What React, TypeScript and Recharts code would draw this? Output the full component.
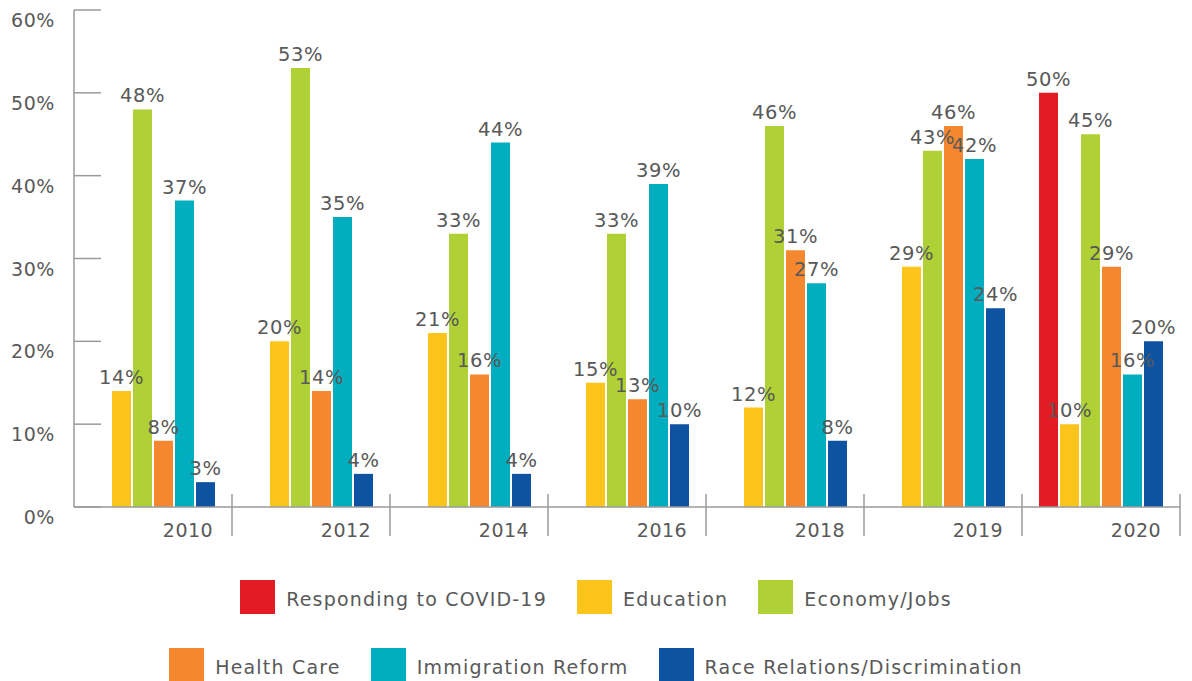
import React from 'react';
import { BarChart, Bar, XAxis, YAxis, LabelList, Legend } from 'recharts';

const categories = ['2010', '2012', '2014', '2016', '2018', '2019', '2020'];
const covid = [null, null, null, null, null, null, 50];
const education = [14, 20, 21, 15, 12, 29, 10];
const economy = [48, 53, 33, 33, 46, 43, 45];
const healthCare = [8, 14, 16, 13, 31, 46, 29];
const immigration = [37, 35, 44, 39, 27, 42, 16];
const race = [3, 4, 4, 10, 8, 24, 20];
const yTicks = [0, 10, 20, 30, 40, 50, 60];

const series = [
  { key: 'covid', name: 'Responding to COVID-19', color: '#E31B23' },
  { key: 'education', name: 'Education', color: '#FDC51B' },
  { key: 'economy', name: 'Economy/Jobs', color: '#AFD135' },
  { key: 'health', name: 'Health Care', color: '#F5882E' },
  { key: 'immigration', name: 'Immigration Reform', color: '#00AEBF' },
  { key: 'race', name: 'Race Relations/Discrimination', color: '#0D53A2' },
];

const data = categories.map((year, i) => ({
  year,
  covid: covid[i],
  education: education[i],
  economy: economy[i],
  health: healthCare[i],
  immigration: immigration[i],
  race: race[i],
}));

const W = 1192;
const H = 681;
const MARGIN = { top: 10, right: 12, left: 0, bottom: 0 };
const Y_W = 74;
const X_H = 174;
const BAND = (W - MARGIN.left - MARGIN.right - Y_W) / categories.length;
const FONT = '"DejaVu Sans", sans-serif';
const TEXT = '#595959';
const AXIS = '#9a9a9a';

const YTick = (props: any) => {
  const { x, y, payload } = props;
  return (
    <g>
      <line x1={x} x2={x + 27} y1={y} y2={y} stroke={AXIS} strokeWidth={1.5} />
      <text x={x - 19} y={y + 17} textAnchor="end" fill={TEXT} fontSize={19} fontFamily={FONT} letterSpacing={0.6}>
        {`${payload.value}%`}
      </text>
    </g>
  );
};

const XTick = (props: any) => {
  const { x, y, payload } = props;
  const sep = x + BAND / 2;
  return (
    <g>
      <line x1={sep} x2={sep} y1={y - 13} y2={y + 29} stroke={AXIS} strokeWidth={1.5} />
      <text x={x + 35} y={y + 30} textAnchor="middle" fill={TEXT} fontSize={19} fontFamily={FONT} letterSpacing={0.5}>
        {payload.value}
      </text>
    </g>
  );
};

const LegendContent = () => {
  const rows = [series.slice(0, 3), series.slice(3)];
  return (
    <div style={{ width: W, fontFamily: FONT }}>
      {rows.map((row, ri) => (
        <div
          key={ri}
          style={{ display: 'flex', justifyContent: 'center', alignItems: 'center', marginBottom: ri === 0 ? 34 : 0 }}
        >
          {row.map((s, i) => (
            <div
              key={s.key}
              style={{ display: 'flex', alignItems: 'center', marginRight: i < row.length - 1 ? 30 : 0 }}
            >
              <div style={{ width: 35, height: 34, background: s.color, marginRight: 11 }} />
              <span style={{ color: TEXT, fontSize: 19, letterSpacing: 1.2, whiteSpace: 'nowrap', position: 'relative', top: 2 }}>
                {s.name}
              </span>
            </div>
          ))}
        </div>
      ))}
    </div>
  );
};

const fmt = (v: any) => (v == null ? '' : `${v}%`);

export default function App() {
  return (
    <div style={{ position: 'absolute', left: 0, top: 0, background: '#fff' }}>
      <BarChart width={W} height={H} data={data} margin={MARGIN} barCategoryGap={17} barGap={2}>
        <XAxis
          dataKey="year"
          height={X_H}
          tickLine={false}
          tickSize={0}
          tickMargin={0}
          axisLine={{ stroke: AXIS, strokeWidth: 1.5 }}
          tick={<XTick />}
          interval={0}
        />
        <YAxis
          width={Y_W}
          domain={[0, 60]}
          ticks={yTicks}
          tickLine={false}
          tickSize={0}
          tickMargin={0}
          axisLine={{ stroke: AXIS, strokeWidth: 1.5 }}
          tick={<YTick />}
          interval={0}
        />
        <Legend
          layout="horizontal"
          verticalAlign="middle"
          content={<LegendContent />}
          wrapperStyle={{ top: 580, left: 0, width: W }}
        />
        {series.map((s) => (
          <Bar key={s.key} dataKey={s.key} name={s.name} fill={s.color} isAnimationActive={false}>
            <LabelList
              dataKey={s.key}
              position="top"
              offset={7}
              formatter={fmt}
              fill={TEXT}
              fontSize={19.5}
              fontFamily={FONT}
              letterSpacing={0.6}
            />
          </Bar>
        ))}
      </BarChart>
    </div>
  );
}
